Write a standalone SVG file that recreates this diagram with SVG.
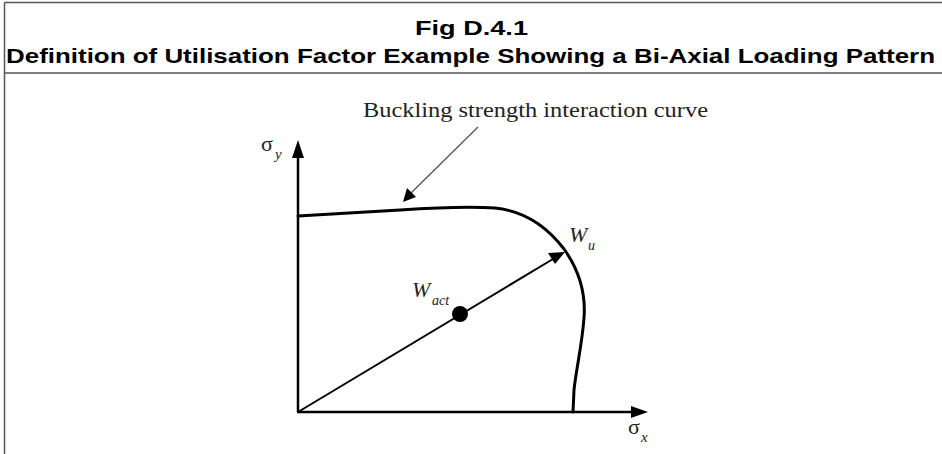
<svg xmlns="http://www.w3.org/2000/svg" width="942" height="454" viewBox="0 0 942 454">
<style>
.title{font-family:"Liberation Sans",Arial,sans-serif;font-weight:bold;font-size:21px;fill:#000}
.lab{font-family:"Liberation Serif","Times New Roman",serif;fill:#222}
.it{font-style:italic}
.frame{stroke:#555;stroke-width:1.5;fill:none}
.axis{stroke:#000;stroke-width:2.5;fill:none}
.curve{stroke:#000;stroke-width:3;fill:none;stroke-linecap:round}
.vec{stroke:#000;stroke-width:2;fill:none}
.lead{stroke:#555;stroke-width:1.3;fill:none}
.head{fill:#000;stroke:none}
</style>
<rect width="942" height="454" fill="#fff"/>
<g id="frame">
<line class="frame" x1="4.5" y1="2.5" x2="942" y2="2.5"/>
<line class="frame" x1="4.5" y1="2.5" x2="4.5" y2="454"/>
<line class="frame" x1="4.5" y1="73" x2="942" y2="73"/>
</g>
<g id="title">
<text class="title" x="415" y="35" textLength="113" lengthAdjust="spacingAndGlyphs">Fig D.4.1</text>
<text class="title" x="6" y="63" textLength="929" lengthAdjust="spacingAndGlyphs">Definition of Utilisation Factor Example Showing a Bi-Axial Loading Pattern</text>
</g>
<g id="connectors">
<line class="axis" x1="298" y1="412" x2="298" y2="156"/>
<polygon class="head" points="298,140 292,158 304,158"/>
<line class="axis" x1="297" y1="412" x2="634" y2="412"/>
<polygon class="head" points="648,412 631,406 631,418"/>
<line class="vec" x1="298" y1="412" x2="553" y2="259"/>
<polygon class="head" points="565,252 548,253 555,264"/>
<line class="lead" x1="478" y1="127" x2="410" y2="194"/>
<polygon class="head" points="403,202 407,188 416,197"/>
</g>
<g id="curve">
<path class="curve" d="M298,216 L400,210 C430,208 465,206 495,208 C525,211 548,228 564,249 C579,270 586,292 584,318 C582,345 576,370 574,390 L573,412"/>
</g>
<g id="w-act">
<circle cx="460" cy="314" r="8" fill="#000"/>
<text class="lab it" x="412" y="297" font-size="22">W</text>
<text class="lab it" x="432" y="305" font-size="14">act</text>
</g>
<g id="w-u">
<text class="lab it" x="569" y="242" font-size="22">W</text>
<text class="lab it" x="588" y="250" font-size="14">u</text>
</g>
<g id="sigma-y">
<text class="lab" x="261" y="151" font-size="22">σ</text>
<text class="lab it" x="275" y="159" font-size="15">y</text>
</g>
<g id="sigma-x">
<text class="lab" x="628" y="434" font-size="22">σ</text>
<text class="lab it" x="641" y="442" font-size="15">x</text>
</g>
<g id="curve-label">
<text class="lab" x="363" y="117" font-size="20" fill="#333" textLength="345" lengthAdjust="spacingAndGlyphs">Buckling strength interaction curve</text>
</g>
</svg>
